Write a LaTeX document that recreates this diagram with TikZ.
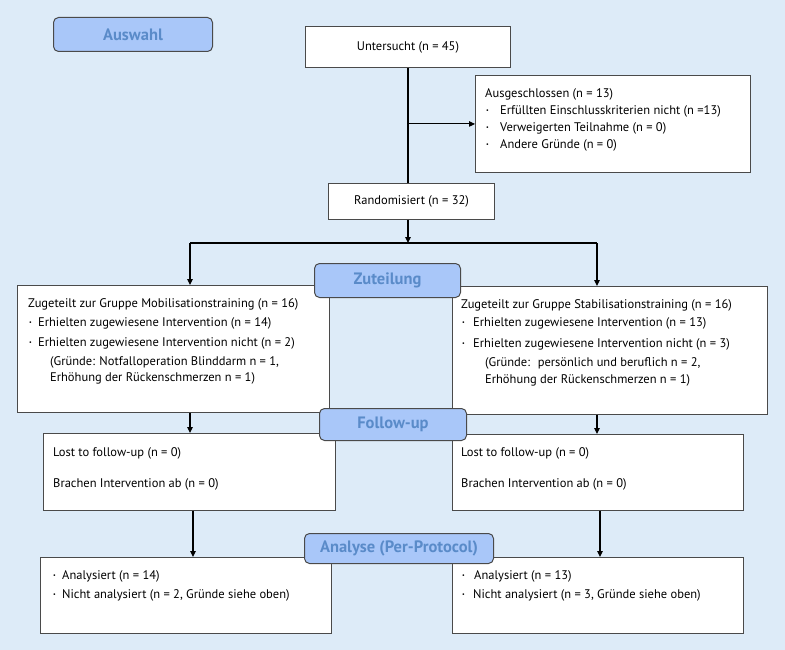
\documentclass[tikz,border=0pt]{standalone}
\usepackage{fontspec}
\setmainfont{PT Sans}
\usetikzlibrary{arrows.meta}
\definecolor{bg}{HTML}{DDEBF8}
\definecolor{lab}{HTML}{A9C7F9}
\definecolor{labtext}{HTML}{5A8BC9}
\definecolor{edge}{HTML}{4A4A4A}
\newcommand{\bul}[1]{\makebox[#1][l]{\hspace{1pt}\raisebox{2pt}{\fontsize{6}{6}\selectfont\textbullet}}}
\begin{document}
\begin{tikzpicture}[x=1pt,y=-1pt,
  box/.style={draw=edge, fill=white, line width=0.9pt, anchor=north west, inner sep=0pt, font=\fontsize{12.5}{14}\selectfont},
  phase/.style={draw=edge, fill=lab, rounded corners=5pt, line width=1pt, text=labtext, anchor=north west, inner sep=0pt, font=\fontsize{16.5}{18}\selectfont\bfseries},
  txt/.style={anchor=north west, align=left, inner sep=0pt, font=\fontsize{12.5}{17}\selectfont},
  arr/.style={-{Triangle[length=6pt,width=5.5pt]}, line width=1.1pt},
  ln/.style={line width=1.1pt}]

\fill[bg] (0,0) rectangle (785,650);
\useasboundingbox (0,0) rectangle (785,650);

% boxes
\node[box, minimum width=205pt, minimum height=41pt] (u) at (305,26) {Untersucht (n = 45)};
\node[box, minimum width=275pt, minimum height=97pt] (ex) at (475,75) {};
\node[box, minimum width=166pt, minimum height=36pt] (r) at (328,183) {Randomisiert (n = 32)};
\node[box, minimum width=312pt, minimum height=127pt] (l1) at (17,285) {};
\node[box, minimum width=315pt, minimum height=128pt] (r1) at (452,286) {};
\node[box, minimum width=292pt, minimum height=77pt] (l2) at (43,433) {};
\node[box, minimum width=291pt, minimum height=76pt] (r2) at (452,434) {};
\node[box, minimum width=291pt, minimum height=76pt] (l3) at (40,557) {};
\node[box, minimum width=291pt, minimum height=76pt] (r3) at (452,557) {};

% texts
\node[txt] (exT) at (485,88) {Ausgeschlossen (n = 13)\\
\bul{15pt}Erfüllten Einschlusskriterien nicht (n =13)\\
\bul{15pt}Verweigerten Teilnahme (n = 0)\\
\bul{15pt}Andere Gründe (n = 0)};

\node[txt] (l1T) at (28,298) {Zugeteilt zur Gruppe Mobilisationstraining (n = 16)\\[2pt]
\bul{10pt}Erhielten zugewiesene Intervention (n = 14)\\[3pt]
\bul{10pt}Erhielten zugewiesene Intervention nicht (n = 2)\\[2pt]
\hspace*{22pt}(Gründe: Notfalloperation Blinddarm n = 1,\\[-1pt]
\hspace*{22pt}Erhöhung der Rückenschmerzen n = 1)};

\node[txt] (r1T) at (461,299) {Zugeteilt zur Gruppe Stabilisationstraining (n = 16)\\[1pt]
\bul{12pt}Erhielten zugewiesene Intervention (n = 13)\\[4pt]
\bul{12pt}Erhielten zugewiesene Intervention nicht (n = 3)\\[2pt]
\hspace*{24pt}(Gründe: \ persönlich und beruflich n = 2,\\[0pt]
\hspace*{24pt}Erhöhung der Rückenschmerzen n = 1)};

\node[txt] (l2T) at (53,447) {Lost to follow-up (n = 0)\\[14pt]
Brachen Intervention ab (n = 0)};
\node[txt] (r2T) at (461,447) {Lost to follow-up (n = 0)\\[14pt]
Brachen Intervention ab (n = 0)};

\node[txt] (l3T) at (52,570) {\bul{10pt}Analysiert (n = 14)\\[2pt]
\bul{10pt}Nicht analysiert (n = 2, Gründe siehe oben)};
\node[txt] (r3T) at (461,570) {\bul{13pt}Analysiert (n = 13)\\[2pt]
\bul{12pt}Nicht analysiert (n = 3, Gründe siehe oben)};

% connectors
\coordinate (split) at (408,243);
\coordinate (sl) at (190,243);
\coordinate (sr) at (597,243);
\coordinate (al) at (193,510);
\coordinate (ar) at (600,510);

\draw[ln] (u.south -| split) -- (r.north -| split);
\draw[arr] (split |- ex.west) -- (ex.west);
\draw[ln] (sl) -- (sr);
\draw[line width=1.7pt] (358,243) -- (430,243);
\draw[arr] (r.south -| split) -- (split);
\draw[arr] (sl) -- (sl |- l1.north);
\draw[arr] (sr) -- (sr |- r1.north);
\draw[arr] (sl |- l1.south) -- (sl |- l2.north);
\draw[arr] (sr |- r1.south) -- (sr |- r2.north);
\draw[arr] (al |- l2.south) -- (al |- l3.north);
\draw[arr] (ar |- r2.south) -- (ar |- r3.north);

% phase labels
\node[phase, minimum width=159pt, minimum height=34pt] (pA) at (53,17) {Auswahl};
\node[phase, minimum width=146pt, minimum height=34pt] (pZ) at (314,263) {Zuteilung};
\node[phase, minimum width=147pt, minimum height=32pt] (pF) at (319,408) {Follow-up};
\node[phase, minimum width=189pt, minimum height=30pt] (pP) at (304,533) {Analyse (Per-Protocol)};
\end{tikzpicture}
\end{document}
